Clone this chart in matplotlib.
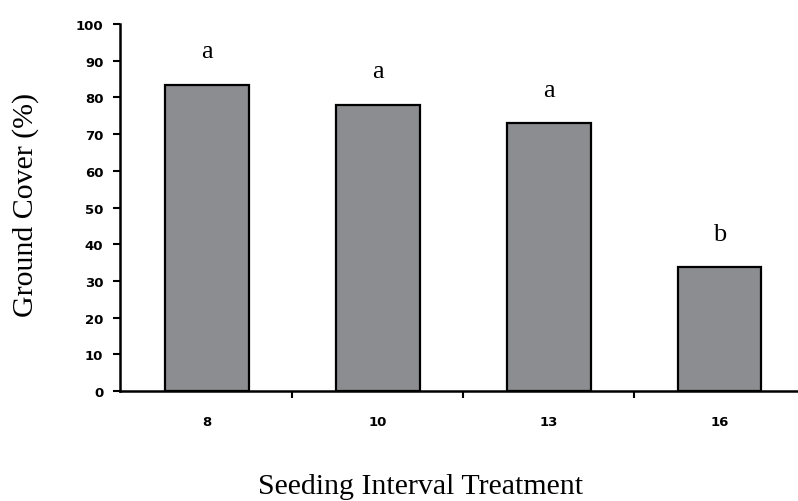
import matplotlib
matplotlib.use("Agg")
import matplotlib.pyplot as plt

categories = ["8", "10", "13", "16"]
ground_cover = [83.5, 78.0, 72.9, 33.7]
letters = ["a", "a", "a", "b"]
y_ticks = [0, 10, 20, 30, 40, 50, 60, 70, 80, 90, 100]

fig = plt.figure(figsize=(7.98, 5.02), dpi=100)
ax = fig.add_axes([120/798, 110/502, 678/798, 367/502])

x = list(range(len(categories)))
bars = ax.bar(x, ground_cover, width=0.49, color="#8c8d91", edgecolor="black", linewidth=1.6)

for xi, v, l in zip(x, ground_cover, letters):
    ax.annotate(l, (xi, v), xytext=(0, 24), textcoords="offset points",
                ha="center", va="center", fontsize=19, family="Liberation Serif")

ax.set_xlim(-0.51, 3.46)
ax.set_ylim(0, 100)
ax.set_yticks(y_ticks)
ax.set_yticklabels([str(t) for t in y_ticks], fontsize=9.5, fontweight="bold", family="DejaVu Sans")
ax.set_xticks(x)
ax.set_xticklabels(categories, fontsize=9.5, fontweight="bold", family="DejaVu Sans")
ax.tick_params(axis="x", length=0, pad=17)
ax.set_xticks([0.5, 1.5, 2.5], minor=True)
ax.tick_params(axis="x", which="minor", length=5, width=1.5, direction="out")
ax.tick_params(axis="y", length=5, width=1.5, direction="out", pad=7)

for s in ["top", "right"]:
    ax.spines[s].set_visible(False)
for s in ["left", "bottom"]:
    ax.spines[s].set_linewidth(1.8)

ax.set_ylabel("Ground Cover (%)", fontsize=21.5, family="Liberation Serif")
ax.yaxis.set_label_coords(-(120-26)/678, (392-205)/367)
ax.yaxis.label.set_va("center")
ax.set_xlabel("Seeding Interval Treatment", fontsize=21.5, family="Liberation Serif")
ax.xaxis.set_label_coords((421-120)/678, -(494-392)/367)
ax.xaxis.label.set_va("baseline")

fig.savefig("out.png", dpi=100)
